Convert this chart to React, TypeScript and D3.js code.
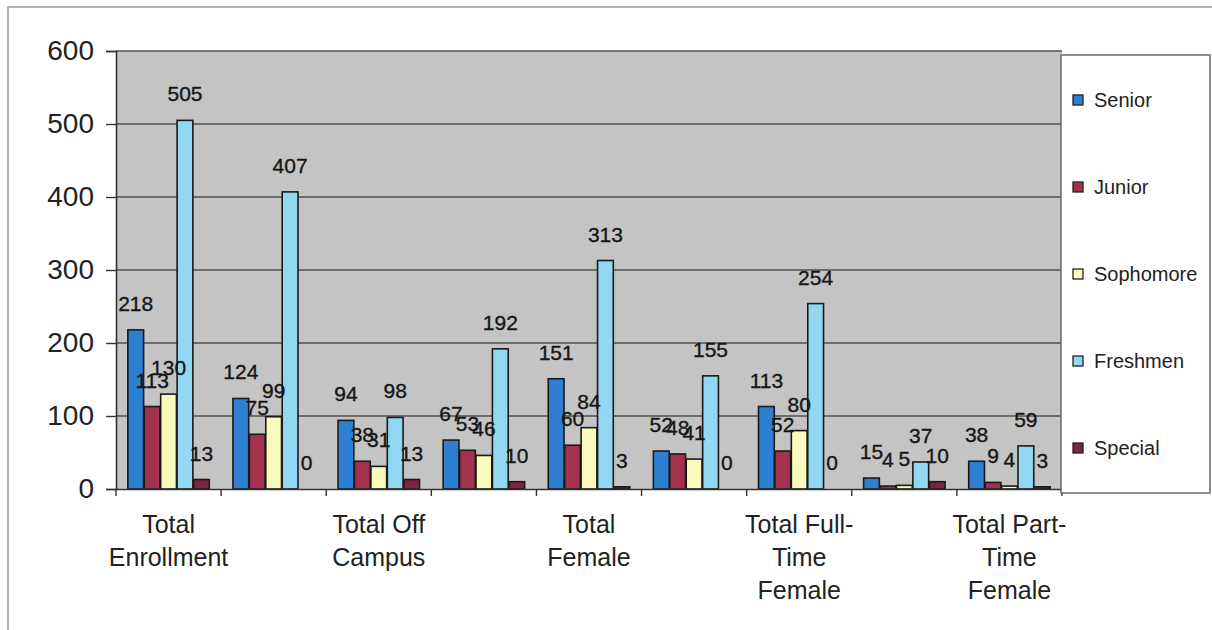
import * as d3 from 'd3';
import { useEffect, useRef } from 'react';

const categories = [
  'Total Enrollment',
  'Total On Campus',
  'Total Off Campus',
  'Total Male',
  'Total Female',
  'Total Full-Time Male',
  'Total Full-Time Female',
  'Total Part-Time Male',
  'Total Part-Time Female',
];

const seriesNames = ['Senior', 'Junior', 'Sophomore', 'Freshmen', 'Special'];

const senior = [218, 124, 94, 67, 151, 52, 113, 15, 38];
const junior = [113, 75, 38, 53, 60, 48, 52, 4, 9];
const sophomore = [130, 99, 31, 46, 84, 41, 80, 5, 4];
const freshmen = [505, 407, 98, 192, 313, 155, 254, 37, 59];
const special = [13, 0, 13, 10, 3, 0, 0, 10, 3];

const yTicks = [0, 100, 200, 300, 400, 500, 600];

const colors = ['#2d7fd2', '#a3324c', '#fafabc', '#92d8f2', '#7c2242'];

const W = 1212;
const H = 630;

export default function App() {
  const ref = useRef<SVGSVGElement>(null);

  useEffect(() => {
    const values = [senior, junior, sophomore, freshmen, special];
    const svg = d3.select(ref.current);
    svg.selectAll('*').remove();

    const font = 'Arial, "Liberation Sans", sans-serif';
    const plot = { left: 116, right: 1062, top: 51, bottom: 489 };

    // outer frame (right and bottom edges fall outside the picture)
    svg.append('rect')
      .attr('x', 8).attr('y', 7)
      .attr('width', 1230).attr('height', 700)
      .attr('fill', '#fff')
      .attr('stroke', '#9a9a9a')
      .attr('stroke-width', 1.5);

    const x = d3.scaleBand()
      .domain(categories)
      .range([plot.left, plot.right])
      .paddingInner(0)
      .paddingOuter(0);

    const xs = d3.scaleBand()
      .domain(seriesNames)
      .range([0, x.bandwidth()])
      .paddingOuter(0.72)
      .paddingInner(0.04);

    const y = d3.scaleLinear()
      .domain([0, 600])
      .range([plot.bottom, plot.top]);

    // plot background
    svg.append('rect')
      .attr('x', plot.left).attr('y', plot.top)
      .attr('width', plot.right - plot.left)
      .attr('height', plot.bottom - plot.top)
      .attr('fill', '#c4c4c5');

    // gridlines
    svg.append('g')
      .selectAll('line')
      .data(yTicks.filter(d => d > 0))
      .enter()
      .append('line')
      .attr('x1', plot.left).attr('x2', plot.right)
      .attr('y1', d => y(d)).attr('y2', d => y(d))
      .attr('stroke', '#505050')
      .attr('stroke-width', 1.6);

    // bars
    values.forEach((vals, si) => {
      svg.append('g')
        .selectAll('rect')
        .data(vals)
        .enter()
        .append('rect')
        .attr('x', (d, i) => x(categories[i])! + xs(seriesNames[si])!)
        .attr('y', d => y(d))
        .attr('width', xs.bandwidth())
        .attr('height', d => y(0) - y(d))
        .attr('fill', colors[si])
        .attr('stroke', '#1a1a1a')
        .attr('stroke-width', d => (d > 0 ? 1.6 : 0));
    });

    // value labels
    values.forEach((vals, si) => {
      svg.append('g')
        .selectAll('text')
        .data(vals)
        .enter()
        .append('text')
        .attr('x', (d, i) => x(categories[i])! + xs(seriesNames[si])! + xs.bandwidth() / 2)
        .attr('y', d => y(d) - 19)
        .attr('text-anchor', 'middle')
        .style('font-family', font)
        .style('font-size', '21px')
        .attr('fill', '#161616')
        .attr('stroke', '#161616')
        .attr('stroke-width', 0.35)
        .text(d => d);
    });

    // y axis
    const yAxis = svg.append('g')
      .attr('transform', `translate(${plot.left},0)`)
      .call(d3.axisLeft(y).tickValues(yTicks).tickSize(10).tickPadding(12));
    yAxis.select('.domain').attr('stroke', '#333').attr('stroke-width', 1.6);
    yAxis.selectAll('.tick line').attr('stroke', '#333').attr('stroke-width', 1.4);
    yAxis.selectAll('.tick text')
      .style('font-family', font)
      .style('font-size', '28px')
      .attr('fill', '#222');

    // x axis
    const xAxis = svg.append('g')
      .attr('transform', `translate(0,${plot.bottom})`)
      .call(d3.axisBottom(x).tickSize(0).tickFormat(() => ''));
    xAxis.select('.domain').attr('stroke', '#333').attr('stroke-width', 1.6);
    svg.append('g')
      .selectAll('line')
      .data(categories.concat(['end']))
      .enter()
      .append('line')
      .attr('x1', (d, i) => (i < categories.length ? x(d)! : plot.right))
      .attr('x2', (d, i) => (i < categories.length ? x(d)! : plot.right))
      .attr('y1', plot.bottom)
      .attr('y2', plot.bottom + 7)
      .attr('stroke', '#333')
      .attr('stroke-width', 1.4);

    // category labels (every other one, wrapped)
    const labelG = svg.append('g');
    categories.forEach((cat, i) => {
      if (i % 2 !== 0) return;
      const cx = x(cat)! + x.bandwidth() / 2;
      const tokens = cat.replace(/-/g, '- ').split(' ').filter(t => t);
      const text = labelG.append('text')
        .attr('text-anchor', 'middle')
        .style('font-family', font)
        .style('font-size', '25px')
        .attr('fill', '#222');
      const lines: string[] = [];
      let cur = '';
      tokens.forEach(tok => {
        const cand = cur === '' ? tok : cur.endsWith('-') ? cur + tok : cur + ' ' + tok;
        text.text(cand);
        const w = (text.node() as SVGTextElement).getComputedTextLength();
        if (w > 128 && cur !== '') {
          lines.push(cur);
          cur = tok;
        } else {
          cur = cand;
        }
      });
      if (cur) lines.push(cur);
      text.text(null);
      lines.forEach((ln, li) => {
        text.append('tspan')
          .attr('x', cx)
          .attr('y', 533 + li * 33)
          .text(ln);
      });
    });

    // legend
    svg.append('rect')
      .attr('x', 1061).attr('y', 55)
      .attr('width', 149).attr('height', 438)
      .attr('fill', '#fff')
      .attr('stroke', '#6a6a6a')
      .attr('stroke-width', 1.5);

    const legend = svg.append('g')
      .selectAll('g')
      .data(seriesNames)
      .enter()
      .append('g')
      .attr('transform', (d, i) => `translate(1073,${100 + i * 87})`);
    legend.append('rect')
      .attr('x', 0).attr('y', -5)
      .attr('width', 10).attr('height', 10)
      .attr('fill', (d, i) => colors[i])
      .attr('stroke', '#222')
      .attr('stroke-width', 1.3);
    legend.append('text')
      .attr('x', 21).attr('y', 7)
      .style('font-family', font)
      .style('font-size', '20px')
      .attr('fill', '#222')
      .text(d => d);

    return () => {
      svg.selectAll('*').remove();
    };
  }, []);

  return (
    <svg
      ref={ref}
      width={W}
      height={H}
      style={{ position: 'absolute', left: 0, top: 0, background: '#fff' }}
    />
  );
}
